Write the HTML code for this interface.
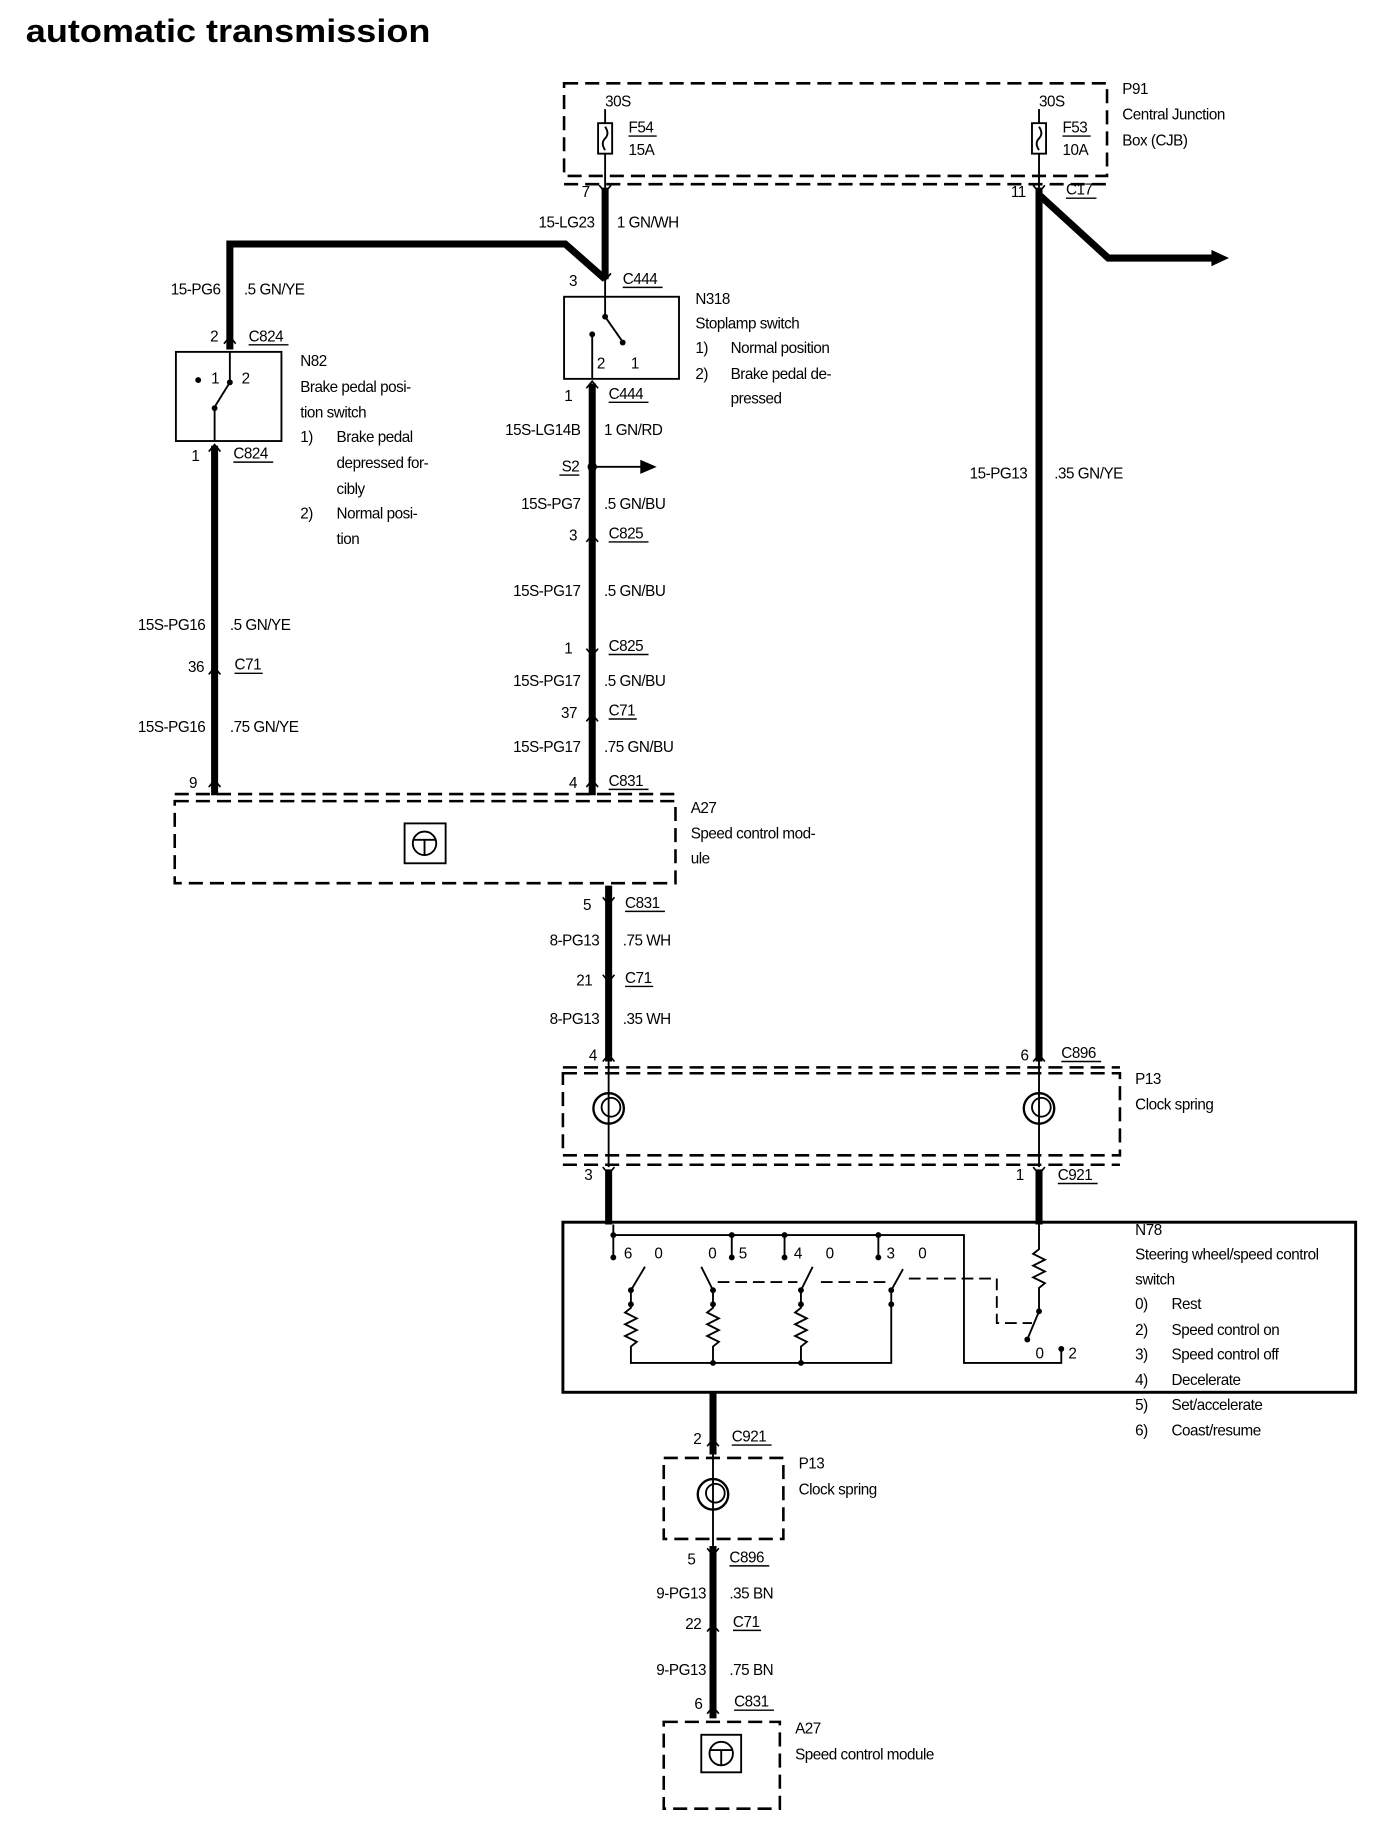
<!DOCTYPE html>
<html><head><meta charset="utf-8"><style>
html,body{margin:0;padding:0;background:#fff;}
svg{display:block;}
text{font-family:"Liberation Sans",Arial,sans-serif;font-size:13px;fill:#000;letter-spacing:-0.4px;}
.r{text-anchor:end;}
.w{stroke:#000;stroke-width:6;fill:none;}
.t{stroke:#000;stroke-width:1.6;fill:none;}
.d{stroke:#000;stroke-width:2.2;fill:none;stroke-dasharray:12 6;}
.u{stroke:#000;stroke-width:1.2;}
</style></head><body>
<svg width="1392" height="1838" viewBox="0 0 1187 1567" preserveAspectRatio="none" xmlns="http://www.w3.org/2000/svg">
<text x="22" y="36" textLength="345" lengthAdjust="spacingAndGlyphs" style="font-size:28px;font-weight:bold;letter-spacing:0">automatic transmission</text>

<!-- P91 -->
<rect x="481" y="71" width="463" height="79" class="d"/>
<line x1="481" y1="157" x2="944" y2="157" class="d"/>
<text x="957" y="80">P91</text><text x="957" y="102">Central Junction</text><text x="957" y="124">Box (CJB)</text>
<text x="516" y="91">30S</text><line x1="516" y1="93" x2="516" y2="105" class="t"/>
<rect x="510" y="105" width="12" height="26" class="t"/><path d="M516 108 q4 6 0 10 q-4 4 0 10" class="t"/>
<text x="536" y="113">F54</text><line x1="536" y1="116" x2="560" y2="116" class="u"/><text x="536" y="132">15A</text>
<text x="886" y="91">30S</text><line x1="886" y1="93" x2="886" y2="105" class="t"/>
<rect x="880" y="105" width="12" height="26" class="t"/><path d="M886 108 q4 6 0 10 q-4 4 0 10" class="t"/>
<text x="906" y="113">F53</text><line x1="906" y1="116" x2="930" y2="116" class="u"/><text x="906" y="132">10A</text>
<line x1="516" y1="131" x2="516" y2="160" class="t"/>
<line x1="886" y1="131" x2="886" y2="160" class="t"/>
<text x="496" y="168">7</text>
<text x="862" y="168">11</text><text x="909" y="166">C17</text><line x1="909" y1="169" x2="935" y2="169" class="u"/>

<!-- top-left wires -->
<path d="M516 160 V238" class="w"/>
<path d="M516 238 L482 208 H196 V298" class="w"/>
<path d="M886 160 V905" class="w"/>
<path d="M886 166 L945 220 H1035" class="w"/>
<path d="M1033 213 L1048 220 L1033 227 Z" fill="#000"/>
<text x="507" y="194" class="r">15-LG23</text><text x="526" y="194">1 GN/WH</text>
<text x="188" y="251" class="r">15-PG6</text><text x="208" y="251">.5 GN/YE</text>

<!-- N318 -->
<text x="492" y="244" class="r">3</text><text x="531" y="242">C444</text><line x1="531" y1="245" x2="565" y2="245" class="u"/>
<rect x="481" y="253" width="98" height="70" class="t"/>
<line x1="516" y1="238" x2="516" y2="270" class="t"/><circle cx="516" cy="270" r="2.5"/>
<line x1="516" y1="270" x2="530" y2="290" class="t"/><circle cx="531" cy="292" r="2.5"/>
<circle cx="505" cy="285" r="2.5"/><line x1="505" y1="285" x2="505" y2="323" class="t"/>
<text x="509" y="314">2</text><text x="538" y="314">1</text>
<text x="593" y="259">N318</text><text x="593" y="280">Stoplamp switch</text>
<text x="593" y="301">1)</text><text x="623" y="301">Normal position</text>
<text x="593" y="323">2)</text><text x="623" y="323">Brake pedal de-</text><text x="623" y="344">pressed</text>
<text x="488" y="342" class="r">1</text><text x="519" y="340">C444</text><line x1="519" y1="343" x2="553" y2="343" class="u"/>

<!-- middle wire -->
<path d="M505 327 V678" class="w"/>
<text x="495" y="371" class="r">15S-LG14B</text><text x="515" y="371">1 GN/RD</text>
<circle cx="505" cy="398" r="4"/><text x="494" y="402" class="r">S2</text><line x1="477" y1="405" x2="494" y2="405" class="u"/>
<line x1="505" y1="398" x2="548" y2="398" class="t"/><path d="M546 392 L560 398 L546 404 Z"/>
<text x="495" y="434" class="r">15S-PG7</text><text x="515" y="434">.5 GN/BU</text>
<text x="492" y="461" class="r">3</text><text x="519" y="459">C825</text><line x1="519" y1="462" x2="553" y2="462" class="u"/>
<text x="495" y="508" class="r">15S-PG17</text><text x="515" y="508">.5 GN/BU</text>
<text x="488" y="557" class="r">1</text><text x="519" y="555">C825</text><line x1="519" y1="558" x2="553" y2="558" class="u"/>
<text x="495" y="585" class="r">15S-PG17</text><text x="515" y="585">.5 GN/BU</text>
<text x="492" y="612" class="r">37</text><text x="519" y="610">C71</text><line x1="519" y1="613" x2="543" y2="613" class="u"/>
<text x="495" y="641" class="r">15S-PG17</text><text x="515" y="641">.75 GN/BU</text>
<text x="492" y="672" class="r">4</text><text x="519" y="670">C831</text><line x1="519" y1="673" x2="553" y2="673" class="u"/>

<!-- N82 -->
<text x="186" y="291" class="r">2</text><text x="212" y="291">C824</text><line x1="212" y1="294" x2="246" y2="294" class="u"/>
<rect x="150" y="300" width="90" height="76" class="t"/>
<circle cx="169" cy="324" r="2.5"/><text x="180" y="327">1</text><text x="206" y="327">2</text>
<line x1="196" y1="300" x2="196" y2="326" class="t"/><circle cx="196" cy="326" r="2.5"/>
<line x1="196" y1="326" x2="183" y2="347" class="t"/><circle cx="183" cy="348" r="2.5"/>
<line x1="183" y1="348" x2="183" y2="376" class="t"/>
<text x="256" y="312">N82</text><text x="256" y="334">Brake pedal posi-</text><text x="256" y="356">tion switch</text>
<text x="256" y="377">1)</text><text x="287" y="377">Brake pedal</text><text x="287" y="399">depressed for-</text><text x="287" y="421">cibly</text>
<text x="256" y="442">2)</text><text x="287" y="442">Normal posi-</text><text x="287" y="464">tion</text>
<text x="170" y="393" class="r">1</text><text x="199" y="391">C824</text><line x1="199" y1="394" x2="233" y2="394" class="u"/>
<path d="M183 380 V678" class="w"/>
<text x="175" y="537" class="r">15S-PG16</text><text x="196" y="537">.5 GN/YE</text>
<text x="174" y="573" class="r">36</text><text x="200" y="571">C71</text><line x1="200" y1="574" x2="224" y2="574" class="u"/>
<text x="175" y="624" class="r">15S-PG16</text><text x="196" y="624">.75 GN/YE</text>
<text x="168" y="672" class="r">9</text>

<!-- A27 big -->
<line x1="149" y1="677" x2="576" y2="677" class="d"/>
<rect x="149" y="683" width="427" height="70" class="d"/>
<rect x="345" y="702" width="35" height="34" class="t"/><circle cx="362" cy="719" r="10" class="t"/><path d="M353 716 H371 M362 716 V729" class="t"/>
<text x="589" y="693">A27</text><text x="589" y="715">Speed control mod-</text><text x="589" y="736">ule</text>

<!-- wire below A27 -->
<path d="M519 755 V905" class="w"/>
<text x="504" y="776" class="r">5</text><text x="533" y="774">C831</text><line x1="533" y1="777" x2="567" y2="777" class="u"/>
<text x="511" y="806" class="r">8-PG13</text><text x="531" y="806">.75 WH</text>
<text x="505" y="840" class="r">21</text><text x="533" y="838">C71</text><line x1="533" y1="841" x2="557" y2="841" class="u"/>
<text x="511" y="873" class="r">8-PG13</text><text x="531" y="873">.35 WH</text>
<text x="509" y="904" class="r">4</text>
<text x="877" y="904" class="r">6</text><text x="905" y="902">C896</text><line x1="905" y1="905" x2="939" y2="905" class="u"/>
<text x="876" y="408" class="r">15-PG13</text><text x="899" y="408">.35 GN/YE</text>

<!-- P13 big -->
<line x1="480" y1="910" x2="955" y2="910" class="d"/>
<rect x="480" y="915" width="475" height="70" class="d"/>
<line x1="480" y1="993" x2="955" y2="993" class="d"/>
<line x1="519" y1="905" x2="519" y2="995" class="t"/><line x1="886" y1="905" x2="886" y2="995" class="t"/>
<circle cx="519" cy="945" r="13" fill="#fff" class="t" style="stroke-width:2"/><circle cx="521" cy="944" r="8" class="t"/>
<circle cx="886" cy="945" r="13" fill="#fff" class="t" style="stroke-width:2"/><circle cx="888" cy="944" r="8" class="t"/>
<text x="968" y="924">P13</text><text x="968" y="946">Clock spring</text>
<text x="505" y="1006" class="r">3</text>
<text x="873" y="1006" class="r">1</text><text x="902" y="1006">C921</text><line x1="902" y1="1009" x2="936" y2="1009" class="u"/>
<path d="M519 997 V1044" class="w"/><path d="M886 997 V1044" class="w"/>

<!-- N78 -->
<rect x="480" y="1042" width="676" height="145" class="t" style="stroke-width:2.5"/>
<text x="968" y="1053">N78</text><text x="968" y="1074">Steering wheel/speed control</text><text x="968" y="1095">switch</text>
<text x="968" y="1116">0)</text><text x="999" y="1116">Rest</text>
<text x="968" y="1138">2)</text><text x="999" y="1138">Speed control on</text>
<text x="968" y="1159">3)</text><text x="999" y="1159">Speed control off</text>
<text x="968" y="1181">4)</text><text x="999" y="1181">Decelerate</text>
<text x="968" y="1202">5)</text><text x="999" y="1202">Set/accelerate</text>
<text x="968" y="1224">6)</text><text x="999" y="1224">Coast/resume</text>
<g class="t">
<path d="M523 1044 V1072 M523 1053 H822 V1162 H905 V1150"/>
<path d="M624 1053 V1072 M669 1053 V1072 M749 1053 V1072"/>
<path d="M550 1080 L538 1100 V1115 l-5 4 l10 5 l-10 5 l10 5 l-10 5 l10 5 l-5 4 V1162 H760 V1100 L770 1082"/>
<path d="M598 1080 L608 1100 V1115 l-5 4 l10 5 l-10 5 l10 5 l-10 5 l10 5 l-5 4 V1162"/>
<path d="M693 1080 L683 1100 V1115 l-5 4 l10 5 l-10 5 l10 5 l-10 5 l10 5 l-5 4 V1162"/>
<path d="M886 1044 V1065 l-5 4 l10 5 l-10 5 l10 5 l-10 5 l10 5 l-5 4 V1118 L876 1142"/>
</g>
<path d="M612 1093 H680 M700 1093 H760 M775 1090 H850 V1128 H880" class="t" style="stroke-dasharray:10 5"/>
<g>
<circle cx="523" cy="1053" r="2.5"/><circle cx="523" cy="1072" r="2.5"/><circle cx="624" cy="1053" r="2.5"/><circle cx="624" cy="1072" r="2.5"/>
<circle cx="669" cy="1053" r="2.5"/><circle cx="669" cy="1072" r="2.5"/><circle cx="749" cy="1053" r="2.5"/><circle cx="749" cy="1072" r="2.5"/>
<circle cx="538" cy="1100" r="2.5"/><circle cx="538" cy="1112" r="2.5"/><circle cx="608" cy="1100" r="2.5"/><circle cx="608" cy="1112" r="2.5"/>
<circle cx="683" cy="1100" r="2.5"/><circle cx="683" cy="1112" r="2.5"/><circle cx="760" cy="1100" r="2.5"/><circle cx="760" cy="1112" r="2.5"/>
<circle cx="608" cy="1162" r="2.5"/><circle cx="683" cy="1162" r="2.5"/><circle cx="886" cy="1118" r="2.5"/><circle cx="876" cy="1142" r="2.5"/><circle cx="905" cy="1150" r="2.5"/>
</g>
<text x="532" y="1073">6</text><text x="558" y="1073">0</text><text x="604" y="1073">0</text><text x="630" y="1073">5</text>
<text x="677" y="1073">4</text><text x="704" y="1073">0</text><text x="756" y="1073">3</text><text x="783" y="1073">0</text>
<text x="883" y="1158">0</text><text x="911" y="1158">2</text>

<!-- lower chain -->
<path d="M608 1187 V1240" class="w"/>
<text x="598" y="1231" class="r">2</text><text x="624" y="1229">C921</text><line x1="624" y1="1232" x2="658" y2="1232" class="u"/>
<rect x="566" y="1243" width="102" height="69" class="d"/>
<line x1="608" y1="1240" x2="608" y2="1318" class="t"/>
<circle cx="608" cy="1274" r="13" fill="#fff" class="t" style="stroke-width:2"/><circle cx="610" cy="1273" r="8" class="t"/>
<text x="681" y="1252">P13</text><text x="681" y="1274">Clock spring</text>
<path d="M608 1318 V1465" class="w"/>
<text x="593" y="1334" class="r">5</text><text x="622" y="1332">C896</text><line x1="622" y1="1335" x2="656" y2="1335" class="u"/>
<text x="602" y="1363" class="r">9-PG13</text><text x="622" y="1363">.35 BN</text>
<text x="598" y="1389" class="r">22</text><text x="625" y="1387">C71</text><line x1="625" y1="1390" x2="649" y2="1390" class="u"/>
<text x="602" y="1428" class="r">9-PG13</text><text x="622" y="1428">.75 BN</text>
<text x="599" y="1457" class="r">6</text><text x="626" y="1455">C831</text><line x1="626" y1="1458" x2="660" y2="1458" class="u"/>
<rect x="566" y="1468" width="99" height="74" class="d"/>
<rect x="598" y="1479" width="34" height="32" class="t"/><circle cx="615" cy="1495" r="10" class="t"/><path d="M606 1492 H624 M615 1492 V1505" class="t"/>
<text x="678" y="1478">A27</text><text x="678" y="1500">Speed control module</text>

<!-- connector chevrons -->
<g class="t" style="stroke-width:1.4">
<path d="M511 158 L516 164 L521 158"/><path d="M881 158 L886 164 L891 158"/>
<path d="M511 233 L516 239 L521 233"/><path d="M191 293 L196 287 L201 293"/>
<path d="M178 385 L183 379 L188 385"/><path d="M178 575 L183 569 L188 575"/><path d="M178 671 L183 665 L188 671"/>
<path d="M500 331 L505 325 L510 331"/><path d="M500 462 L505 456 L510 462"/><path d="M500 553 L505 559 L510 553"/>
<path d="M500 615 L505 609 L510 615"/><path d="M500 671 L505 665 L510 671"/>
<path d="M514 765 L519 771 L524 765"/><path d="M514 831 L519 837 L524 831"/><path d="M514 905 L519 899 L524 905"/>
<path d="M881 905 L886 899 L891 905"/><path d="M514 995 L519 1001 L524 995"/><path d="M881 995 L886 1001 L891 995"/>
<path d="M603 1233 L608 1227 L613 1233"/><path d="M603 1320 L608 1326 L613 1320"/><path d="M603 1391 L608 1385 L613 1391"/><path d="M603 1461 L608 1455 L613 1461"/>
</g>
</svg>
</body></html>
